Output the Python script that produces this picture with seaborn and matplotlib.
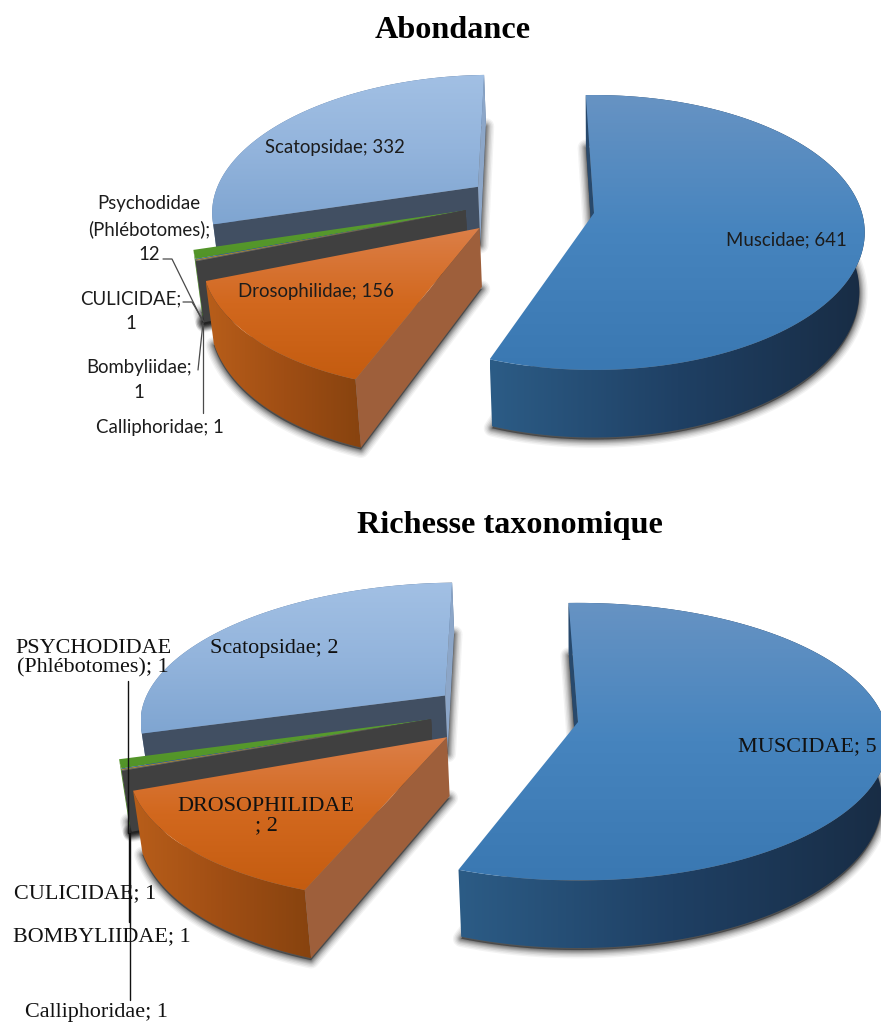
import numpy as np
import matplotlib
matplotlib.use("Agg")
import matplotlib.pyplot as plt
from matplotlib.patches import Polygon
import seaborn as sns

# Families in clockwise order, starting from the top of each pie
families_top = ["Muscidae", "Drosophilidae", "Calliphoridae", "Bombyliidae",
                "CULICIDAE", "Psychodidae\n(Phlébotomes)", "Scatopsidae"]
families_bottom = ["MUSCIDAE", "DROSOPHILIDAE\n", "Calliphoridae", "BOMBYLIIDAE",
                   "CULICIDAE", "PSYCHODIDAE\n(Phlébotomes)", "Scatopsidae"]
abundance = [641, 156, 1, 1, 1, 12, 332]
richness = [5, 2, 1, 1, 1, 1, 2]
titles = ["Abondance", "Richesse taxonomique"]

# Both pies share the abundance proportions; the richness counts only appear as labels.
slice_sizes = np.array(abundance, dtype=float)

sns.set_theme(style="white")
fig = plt.figure(figsize=(8.81, 10.23), dpi=100, facecolor="white")
ax = fig.add_axes([0, 0, 1, 1])
ax.set_xlim(0, 881)
ax.set_ylim(1023, 0)
ax.axis("off")

START_DEG = -2.0
TILT = 0.1418
SQUEEZE = 0.02

# Position of each slice on the pie's plane once pulled out from the centre
EXPLODE = [(0.0, 0.0), (-0.42, 0.11), (-0.48, -0.02), (-0.48, -0.02),
           (-0.48, -0.02), (-0.48, -0.02), (-0.445, -0.2)]

pal = dict(
    face=[["#6793C3", "#4684BE", "#3A78B2"],
          ["#DC7F48", "#D2681E", "#C45C10"],
          ["#6E6E6E", "#6E6E6E"], ["#D2A024", "#D2A024"],
          ["#3C70AC", "#3C70AC"], ["#5A9E30", "#529328"],
          ["#A2C0E4", "#93B4DC", "#7FA5D1"]],
    wall=[["#2C5C86", "#1F4064", "#182C44"],
          ["#B85E1A", "#A04E14", "#87430F"],
          ["#404040", "#404040"], ["#404040", "#404040"],
          ["#404040", "#404040"], ["#4B8428", "#4B8428"],
          ["#5F7FA8", "#4C6A90"]],
    cut_start=["#28496C", "#9E5F3B", "#404040", "#404040", "#404040", "#404040", "#414F62"],
    # Only the largest back slice shows its far cut face
    cut_end=[None, None, None, None, None, None, "#8CA6C8"],
)


def project(x, y, z, geom):
    """Perspective projection of a plane point at height z (0 top, 1 bottom)."""
    cx, cy, a, b, depth = geom
    w = 1 - TILT * y
    s = 1 / (1 + SQUEEZE * z / np.maximum(w, 1e-3))
    return np.column_stack([cx + a * x / w * s,
                            cy + b * y / w + depth * z / w])


def gradient_fill(pts, colors, horizontal, zorder):
    cmap = sns.blend_palette(colors, as_cmap=True)
    x0, y0 = pts.min(axis=0)
    x1, y1 = pts.max(axis=0)
    ramp = np.linspace(0, 1, 256)
    data = ramp[None, :] if horizontal else ramp[:, None]
    im = ax.imshow(data, cmap=cmap, vmin=0, vmax=1, extent=(x0, x1, y1, y0),
                   origin="upper", aspect="auto", interpolation="bilinear",
                   zorder=zorder)
    im.set_clip_path(Polygon(pts, closed=True, transform=ax.transData))


def draw_pie(geom):
    angles = START_DEG + np.concatenate([[0], np.cumsum(slice_sizes)]) / slice_sizes.sum() * 360
    # Painter's order: back slices first, the large front ones last
    order = [6, 5, 4, 3, 2, 1, 0]
    z = 2
    for i in order:
        ox, oy = EXPLODE[i]
        th = np.radians(np.linspace(angles[i], angles[i + 1], 120))
        rim_x, rim_y = ox + np.sin(th), oy - np.cos(th)
        apex_x, apex_y = np.array([ox]), np.array([oy])
        top_rim = project(rim_x, rim_y, 0, geom)
        bot_rim = project(rim_x, rim_y, 1, geom)
        top_apex = project(apex_x, apex_y, 0, geom)
        bot_apex = project(apex_x, apex_y, 1, geom)

        # Soft shadow under the slice
        ground = np.vstack([bot_apex, bot_rim]) + [0, 2]
        for lw, alpha in zip([12, 10, 8, 6, 4.5, 3, 1.5], [0.05, 0.07, 0.09, 0.11, 0.13, 0.15, 0.18]):
            ax.add_patch(Polygon(ground, closed=True, facecolor="#222222", edgecolor="#222222",
                                 lw=lw, alpha=alpha, joinstyle="round", zorder=z))
        z += 1

        # Rounded outer wall
        wall = np.vstack([top_rim, bot_rim[::-1]])
        gradient_fill(wall, pal["wall"][i], True, z)
        z += 1

        # Cut faces of the slice
        cut_a = np.vstack([top_apex, top_rim[:1], bot_rim[:1], bot_apex])
        ax.add_patch(Polygon(cut_a, closed=True, facecolor=pal["cut_start"][i],
                             edgecolor="none", zorder=z))
        if pal["cut_end"][i] is not None:
            cut_b = np.vstack([top_apex, top_rim[-1:], bot_rim[-1:], bot_apex])
            ax.add_patch(Polygon(cut_b, closed=True, facecolor=pal["cut_end"][i],
                                 edgecolor="none", zorder=z))
        z += 1

        # Top face
        face = np.vstack([top_apex, top_rim])
        gradient_fill(face, pal["face"][i], False, z)
        z += 1


TOP_GEOM = (594.0, 213.0, 268.0, 134.7, 58.0)
BOTTOM_GEOM = (578.0, 722.0, 307.0, 136.0, 58.0)
draw_pie(TOP_GEOM)
draw_pie(BOTTOM_GEOM)

# Titles
title_style = dict(family="Liberation Serif", fontweight="bold", fontsize=23.2,
                   color="black", ha="center", va="center", zorder=60)
ax.text(453, 30, titles[0], **title_style)
ax.text(510, 526, titles[1], **title_style)


def label_text(names, counts, i, sep=" "):
    return f"{names[i]};{sep}{counts[i]}"


# Upper pie labels
calibri = dict(family="Lato", fontsize=13.4, color="#1c1c1c", ha="center", va="center",
               zorder=60, linespacing=1.55)
ax.text(335, 147, label_text(families_top, abundance, 6), **calibri)
ax.text(786, 240, label_text(families_top, abundance, 0), **calibri)
ax.text(316, 292, label_text(families_top, abundance, 1), **calibri)
ax.text(149, 229, label_text(families_top, abundance, 5, "\n"), **calibri)
ax.text(131, 311, label_text(families_top, abundance, 4, "\n"), **calibri)
ax.text(139, 380, label_text(families_top, abundance, 3, "\n"), **calibri)
ax.text(160, 428, label_text(families_top, abundance, 2), **calibri)

# Lower pie labels
serif = dict(family="Liberation Serif", fontsize=15.9, color="#111111", ha="center", va="center",
             zorder=60, linespacing=1.05)
ax.text(274, 648, label_text(families_bottom, richness, 6), **serif)
ax.text(807, 747, label_text(families_bottom, richness, 0), **serif)
ax.text(266, 816, label_text(families_bottom, richness, 1), **serif)
ax.text(93, 658, label_text(families_bottom, richness, 5), **serif)
ax.text(85, 894, label_text(families_bottom, richness, 4), **serif)
ax.text(102, 937, label_text(families_bottom, richness, 3), **serif)
ax.text(96, 1013, label_text(families_bottom, richness, 2), **serif)

# Leader lines
leader_top = dict(color="#4a4a4a", lw=0.9, zorder=61)
ax.plot([163, 172, 202], [259, 259, 320], **leader_top)
ax.plot([183, 192, 204], [302, 302, 322], **leader_top)
ax.plot([198, 203], [370, 323], **leader_top)
ax.plot([203, 203], [413, 325], **leader_top)

leader_bottom = dict(color="#111111", lw=1.0, zorder=61)
ax.plot([128, 128], [681, 833], **leader_bottom)
ax.plot([129, 129], [833, 922], **leader_bottom)
ax.plot([130, 130], [833, 1000], **leader_bottom)

fig.savefig("out.png", dpi=100, facecolor="white")
